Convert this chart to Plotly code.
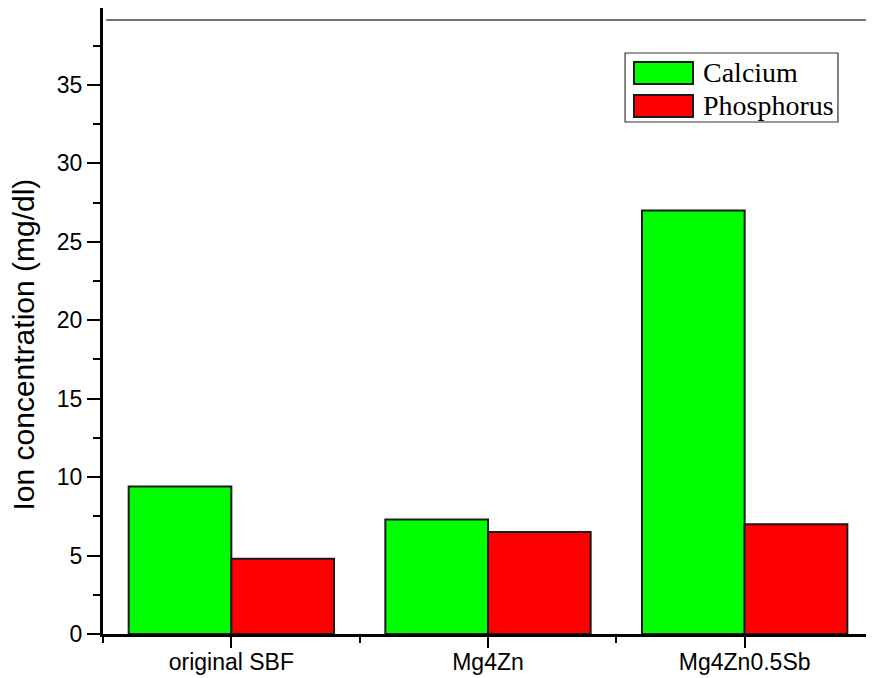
import plotly.graph_objects as go

categories = ["original SBF", "Mg4Zn", "Mg4Zn0.5Sb"]
calcium = [9.4, 7.3, 27.0]
phosphorus = [4.8, 6.5, 7.0]
series_names = ["Calcium", "Phosphorus"]
series_colors = ["#00ff00", "#ff0000"]
y_ticks = [0, 5, 10, 15, 20, 25, 30, 35]
y_title = "Ion concentration (mg/dl)"

xpos = list(range(len(categories)))

fig = go.Figure()
for name, vals, col in zip(series_names, [calcium, phosphorus], series_colors):
    fig.add_trace(go.Bar(
        x=xpos, y=vals, name=name,
        marker=dict(color=col, line=dict(color="#1a1a1a", width=2)),
        showlegend=False,
    ))

# page body has an 8px default margin, so the figure is sized to fit
fig.update_layout(
    width=866, height=670,
    margin=dict(l=95, r=1, t=0, b=44),
    paper_bgcolor="white", plot_bgcolor="white",
    barmode="group", bargap=0.2, bargroupgap=0,
    font=dict(family="Liberation Sans, Arial", size=23, color="black"),
)

fig.update_xaxes(
    range=[-0.5, 2.5], automargin=False,
    tickmode="array", tickvals=xpos, ticktext=categories,
    ticks="outside", ticklen=11, tickwidth=2, tickcolor="black",
    ticklabelstandoff=-6,
    showline=True, linecolor="black", linewidth=3,
    showgrid=False, zeroline=False,
    tickfont=dict(family="Liberation Sans, Arial", size=23, color="black"),
    minor=dict(tickvals=[-0.5, 0.5, 1.5, 2.5], ticks="outside", ticklen=6,
               tickwidth=2, tickcolor="black", showgrid=False),
)
fig.update_yaxes(
    range=[0, 39.9], automargin=False,
    tickmode="array", tickvals=y_ticks,
    ticks="outside", ticklen=13, tickwidth=2, tickcolor="black",
    showline=True, linecolor="black", linewidth=3,
    showgrid=False, zeroline=False,
    tickfont=dict(family="Liberation Sans, Arial", size=23, color="black"),
    minor=dict(dtick=2.5, tick0=0, ticks="outside", ticklen=7, tickwidth=2,
               tickcolor="black", showgrid=False),
)

fig.add_annotation(xref="paper", yref="paper", x=-0.103, y=0.462,
                   xanchor="center", yanchor="middle", showarrow=False,
                   textangle=-90, text=y_title,
                   font=dict(family="Liberation Sans, Arial", size=30, color="black"))

# frame lines (top and right)
fig.add_shape(type="line", xref="paper", yref="paper", x0=0.004, x1=1.0,
              y0=0.9808, y1=0.9808, line=dict(color="#444444", width=1.5))
fig.add_shape(type="line", xref="paper", yref="paper", x0=0.999, x1=0.999,
              y0=0.0, y1=0.9808, line=dict(color="#444444", width=1.5))

# custom legend
fig.add_shape(type="rect", xref="paper", yref="paper",
              x0=0.678, x1=0.9545, y0=0.8179, y1=0.9281,
              line=dict(color="#333333", width=1.2), fillcolor="white")
swatch_y = [(0.8786, 0.9137), (0.8259, 0.8610)]
text_y = [0.8965, 0.8435]
for name, col, (ya, yb), ty in zip(series_names, series_colors, swatch_y, text_y):
    fig.add_shape(type="rect", xref="paper", yref="paper",
                  x0=0.6896, x1=0.7662, y0=ya, y1=yb,
                  line=dict(color="#1a1a1a", width=2), fillcolor=col)
    fig.add_annotation(xref="paper", yref="paper", x=0.7765, y=ty,
                       xanchor="left", yanchor="middle", showarrow=False,
                       text=name,
                       font=dict(family="Liberation Serif, Times New Roman",
                                 size=28, color="black"))

fig.write_html("out.html")
